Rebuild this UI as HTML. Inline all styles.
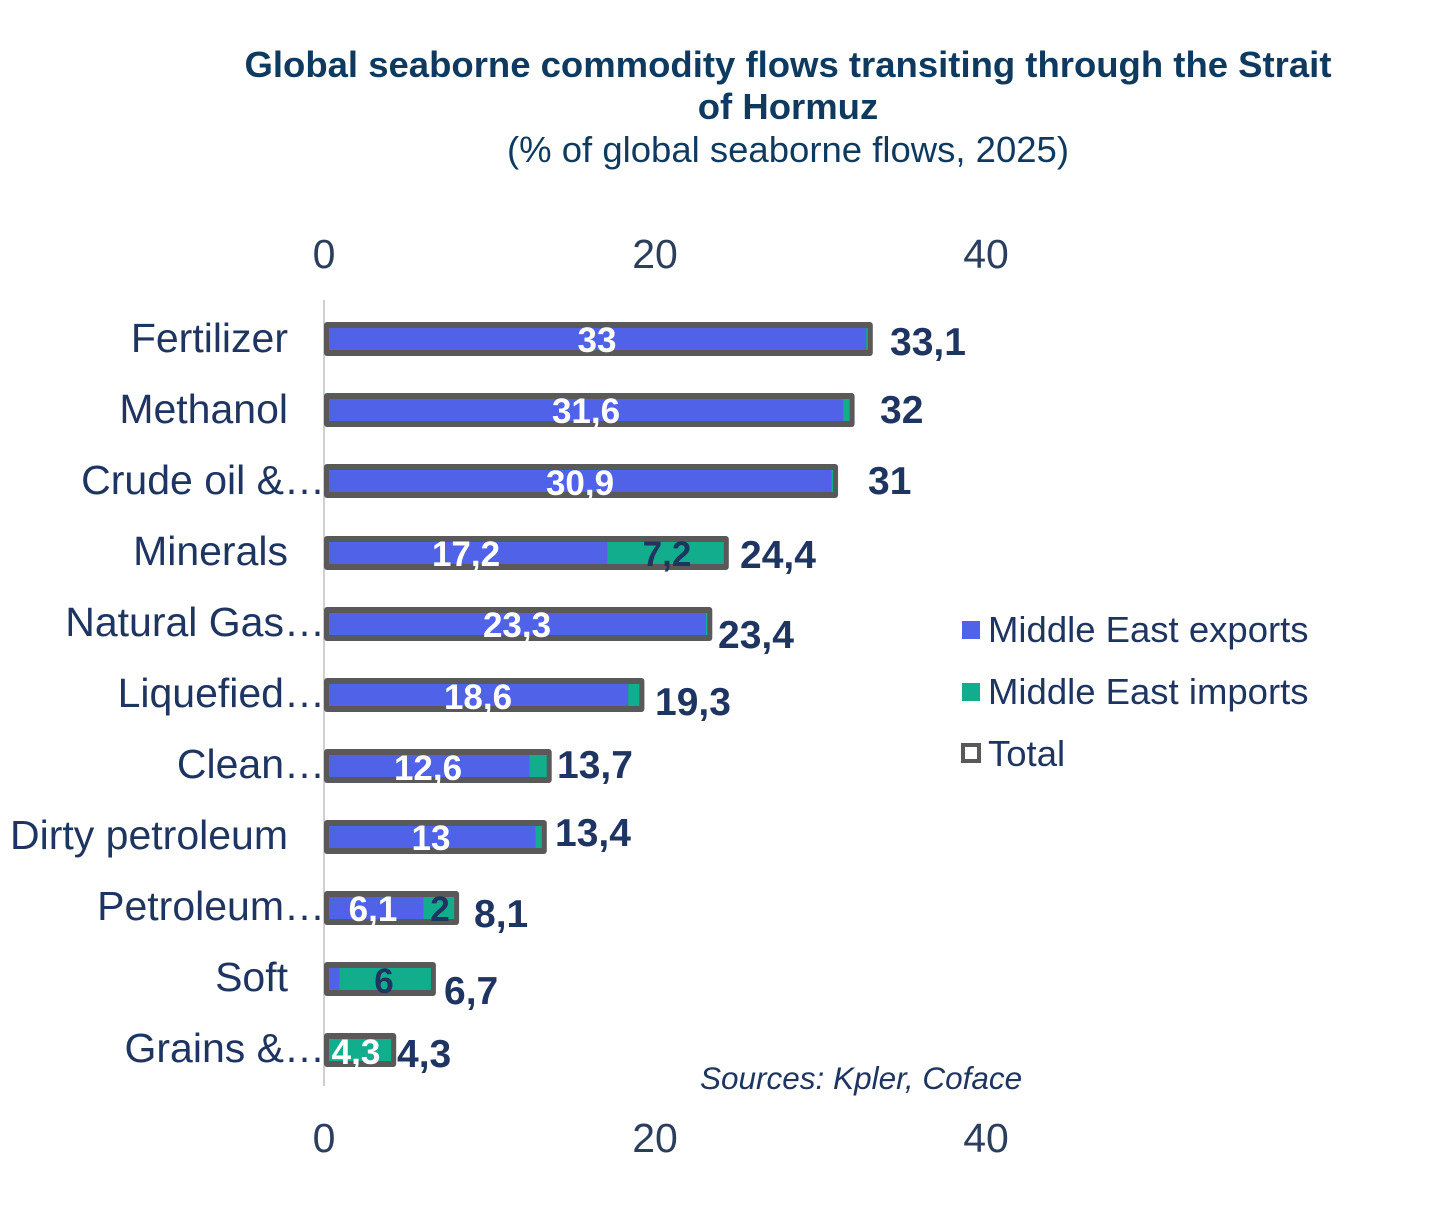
<!DOCTYPE html>
<html><head><meta charset="utf-8"><style>
body{margin:0;background:#fff}
svg{display:block;font-family:"Liberation Sans",Arial,sans-serif}
</style></head><body>
<svg width="1455" height="1226" viewBox="0 0 1455 1226" xmlns="http://www.w3.org/2000/svg">
<g fill="#0f3a5f" text-anchor="middle">
<text x="788" y="77" font-size="36.5" font-weight="bold">Global seaborne commodity flows transiting through the Strait</text>
<text x="788" y="119" font-size="36.5" font-weight="bold">of Hormuz</text>
<text x="788" y="162" font-size="36.5">(% of global seaborne flows, 2025)</text>
</g>
<g fill="#2b3f5c" font-size="41" text-anchor="middle">
<text x="324" y="268">0</text><text x="655" y="268">20</text><text x="986" y="268">40</text>
<text x="324" y="1152">0</text><text x="655" y="1152">20</text><text x="986" y="1152">40</text>
</g>
<line x1="324" y1="300" x2="324" y2="1086" stroke="#d0d0d0" stroke-width="2"/>
<g fill="#595959">
<rect x="324" y="322" width="548.8" height="34" rx="3"/>
<rect x="324" y="393" width="530.6" height="34" rx="3"/>
<rect x="324" y="464" width="514.05" height="34" rx="3"/>
<rect x="324" y="536" width="404.8" height="34" rx="3"/>
<rect x="324" y="607" width="388.3" height="34" rx="3"/>
<rect x="324" y="678" width="320.4" height="34" rx="3"/>
<rect x="324" y="749" width="227.7" height="34" rx="3"/>
<rect x="324" y="820" width="222.8" height="34" rx="3"/>
<rect x="324" y="891" width="135.1" height="34" rx="3"/>
<rect x="324" y="962" width="111.9" height="34" rx="3"/>
<rect x="324" y="1033" width="72.2" height="34" rx="3"/>
</g>
<g fill="#4f62e8">
<rect x="329" y="328" width="537.2" height="22"/>
<rect x="329" y="399" width="514.1" height="22"/>
<rect x="329" y="470" width="502.4" height="22"/>
<rect x="329" y="542" width="278.2" height="22"/>
<rect x="329" y="613" width="376.7" height="22"/>
<rect x="329" y="684" width="299.2" height="22"/>
<rect x="329" y="755" width="200.3" height="22"/>
<rect x="329" y="826" width="206.5" height="22"/>
<rect x="329" y="897" width="94.3" height="22"/>
<rect x="329" y="968" width="10.5" height="22"/>
</g>
<g fill="#12ad8c">
<rect x="866.2" y="328" width="1.6" height="22"/>
<rect x="843.1" y="399" width="6.5" height="22"/>
<rect x="831.4" y="470" width="1.6" height="22"/>
<rect x="607.2" y="542" width="116.6" height="22"/>
<rect x="705.7" y="613" width="1.6" height="22"/>
<rect x="628.2" y="684" width="11.2" height="22"/>
<rect x="529.3" y="755" width="17.4" height="22"/>
<rect x="535.5" y="826" width="6.3" height="22"/>
<rect x="423.3" y="897" width="30.8" height="22"/>
<rect x="339.5" y="968" width="91.4" height="22"/>
<rect x="329" y="1039" width="62.2" height="22"/>
</g>
<g fill="#1e3461" font-size="41" text-anchor="end">
<text x="288" y="352">Fertilizer</text>
<text x="288" y="423">Methanol</text>
<text x="325" y="494">Crude oil &amp;…</text>
<text x="288" y="565">Minerals</text>
<text x="325" y="636">Natural Gas…</text>
<text x="325" y="707">Liquefied…</text>
<text x="325" y="778">Clean…</text>
<text x="288" y="849">Dirty petroleum</text>
<text x="325" y="920">Petroleum…</text>
<text x="288" y="991">Soft</text>
<text x="325" y="1062">Grains &amp;…</text>
</g>
<g fill="#1e3461" font-size="39" font-weight="bold">
<text x="890" y="355">33,1</text>
<text x="880" y="423">32</text>
<text x="868" y="494">31</text>
<text x="740" y="568">24,4</text>
<text x="718" y="648">23,4</text>
<text x="655" y="715">19,3</text>
<text x="557" y="778">13,7</text>
<text x="555" y="846">13,4</text>
<text x="474" y="927">8,1</text>
<text x="444" y="1004">6,7</text>
<text x="397" y="1067">4,3</text>
</g>
<g font-size="36.5">
<rect x="962" y="621" width="18" height="18" fill="#4f62e8"/>
<text x="988" y="642" fill="#1e3461">Middle East exports</text>
<rect x="962" y="683" width="18" height="18" fill="#12ad8c"/>
<text x="988" y="704" fill="#1e3461">Middle East imports</text>
<rect x="963" y="745" width="16" height="16" fill="#fff" stroke="#595959" stroke-width="4"/>
<text x="988" y="766" fill="#1e3461">Total</text>
</g>
<text x="700" y="1089" font-size="31.5" font-style="italic" fill="#1e3461">Sources: Kpler, Coface</text>
<g font-size="35" font-weight="bold" text-anchor="middle">
<text x="597" y="352" fill="#fff">33</text>
<text x="586" y="423" fill="#fff">31,6</text>
<text x="580" y="495" fill="#fff">30,9</text>
<text x="466" y="566" fill="#fff">17,2</text>
<text x="667" y="566" fill="#1e3461">7,2</text>
<text x="517" y="637" fill="#fff">23,3</text>
<text x="478" y="709" fill="#fff">18,6</text>
<text x="428" y="780" fill="#fff">12,6</text>
<text x="431" y="850" fill="#fff">13</text>
<text x="373" y="921" fill="#fff">6,1</text>
<text x="440" y="921" fill="#1e3461">2</text>
<text x="384" y="993" fill="#1e3461">6</text>
<text x="356" y="1064" fill="#fff">4,3</text>
</g>
</svg>
</body></html>
